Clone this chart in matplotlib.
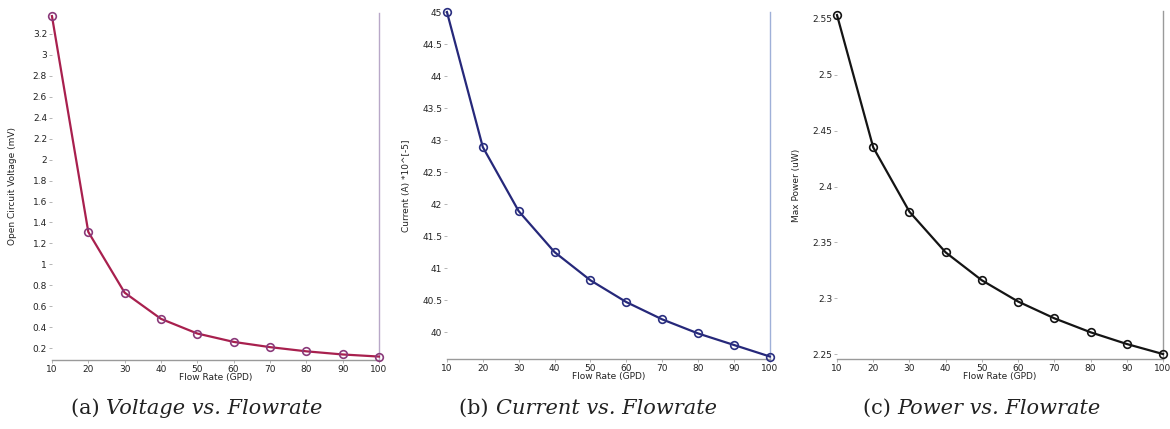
import matplotlib.pyplot as plt

flow = [10, 20, 30, 40, 50, 60, 70, 80, 90, 100]
voltage = [3.37, 1.31, 0.73, 0.48, 0.34, 0.26, 0.21, 0.17, 0.14, 0.12]
current = [45.0, 42.89, 41.89, 41.25, 40.81, 40.47, 40.2, 39.98, 39.8, 39.62]
power = [2.5535, 2.435, 2.3774, 2.341, 2.316, 2.297, 2.282, 2.2695, 2.259, 2.25]

ylabels = ['Open Circuit Voltage (mV)', 'Current (A) *10^[-5]', 'Max Power (uW)']
captions = [('(a) ', 'Voltage vs. Flowrate'), ('(b) ', 'Current vs. Flowrate'),
            ('(c) ', 'Power vs. Flowrate')]
colors = ['#a8204e', '#26287a', '#141414']
mcolors = ['#8a3a7a', '#2a2f80', '#141414']
spine_colors = ['#b8a8c8', '#9fb0d8', '#9a9a9a']
yticks = [[0.2, 0.4, 0.6, 0.8, 1, 1.2, 1.4, 1.6, 1.8, 2, 2.2, 2.4, 2.6, 2.8, 3, 3.2],
          [40, 40.5, 41, 41.5, 42, 42.5, 43, 43.5, 44, 44.5, 45],
          [2.25, 2.3, 2.35, 2.4, 2.45, 2.5, 2.55]]
ylims = [(0.087, 3.40), (39.58, 45.0), (2.2455, 2.557)]
rects = [[0.0444, 0.1608, 0.2795, 0.809],
         [0.382, 0.163, 0.276, 0.809],
         [0.7154, 0.163, 0.2786, 0.811]]
# caption centres in figure fraction
cap_x = [0.1684, 0.5026, 0.8393]
ylabel_pad = [11, 8, 8]

fig = plt.figure(figsize=(11.7, 4.29), dpi=100)
renderer = fig.canvas.get_renderer()

for i, y in enumerate([voltage, current, power]):
    ax = fig.add_axes(rects[i])
    ax.plot(flow, y, color=colors[i], lw=1.6, marker='o', ms=5.5,
            mfc='none', mec=mcolors[i], mew=1.2, clip_on=False, zorder=3)
    ax.set_xlim(10, 100)
    ax.set_ylim(*ylims[i])
    ax.set_xticks(flow)
    ax.set_yticks(yticks[i])
    ax.set_yticklabels(['%g' % t for t in yticks[i]])
    for s in ['top', 'left']:
        ax.spines[s].set_visible(False)
    ax.spines['bottom'].set_color('#9a9a9a')
    ax.spines['bottom'].set_linewidth(1.0)
    ax.spines['right'].set_color(spine_colors[i])
    ax.spines['right'].set_linewidth(1.0)
    ax.tick_params(axis='both', labelsize=6.5, length=2, width=0.6,
                   color='#aaaaaa', pad=1.5, labelcolor='#222222')
    ax.set_xlabel('Flow Rate (GPD)', fontsize=6.5, labelpad=-0.5, color='#222222')
    ax.set_ylabel(ylabels[i], fontsize=6.5, labelpad=ylabel_pad[i], color='#222222')

    # caption: upright "(x) " followed by italic title, centred as one line
    t1 = fig.text(0, 0.025, captions[i][0], ha='left', va='bottom',
                  fontsize=15, family='DejaVu Serif', color='#222222')
    t2 = fig.text(0, 0.025, captions[i][1], ha='left', va='bottom',
                  fontsize=15, family='DejaVu Serif', style='italic', color='#222222')
    w1 = t1.get_window_extent(renderer).width / fig.bbox.width
    w2 = t2.get_window_extent(renderer).width / fig.bbox.width
    x0 = cap_x[i] - (w1 + w2) / 2
    t1.set_x(x0)
    t2.set_x(x0 + w1)

fig.savefig('out.png', dpi=100)
